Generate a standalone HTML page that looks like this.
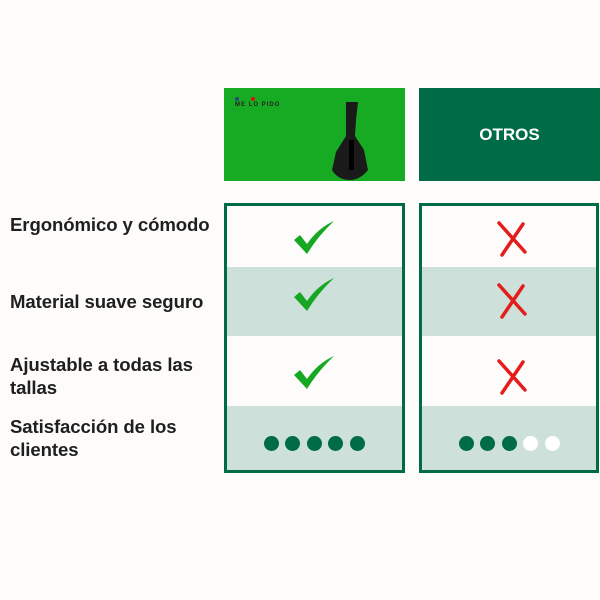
<!DOCTYPE html>
<html><head><meta charset="utf-8"><style>
body{margin:0;width:600px;height:600px;background:#fdfcfa;position:relative;overflow:hidden;font-family:"Liberation Sans",sans-serif}
.a{position:absolute}
.lbl{position:absolute;left:10px;font-weight:bold;font-size:18.6px;color:#1f1f1f;line-height:23px;letter-spacing:-0.1px}
.box{position:absolute;top:203px;height:270px;border:3px solid #006b47;box-sizing:border-box;overflow:hidden;background:#fdfcfa}
.sh{position:absolute;left:0;right:0;background:#cde0da}
.dot{position:absolute;width:15px;height:15px;border-radius:50%;background:#006b47;top:436px}
</style></head><body>
<div class="a" style="left:224px;top:88px;width:181px;height:93px;background:#17ab23"></div>
<div class="a" style="left:235px;top:97px;width:4px;height:4px;border-radius:50%;background:#2a4a7a"></div>
<div class="a" style="left:251px;top:97px;width:4px;height:4px;border-radius:50%;background:#d11"></div>
<div class="a" style="left:235px;top:102px;font-size:6px;font-weight:bold;color:#222;letter-spacing:1px">ME LO PIDO</div>
<svg class="a" style="left:330px;top:100px" width="60" height="80" viewBox="0 0 60 80">
<path d="M16 2 L28 2 L26 20 L25 36 L34 50 L38 70 Q30 80 20 80 Q8 80 2 70 L6 52 L16 36 L16 20 Z" fill="#1a1a1a"/>
<rect x="19" y="40" width="5" height="30" fill="#000"/>
</svg>
<div class="a" style="left:419px;top:88px;width:181px;height:93px;background:#006b47;color:#fff;font-weight:bold;font-size:17px;text-align:center;line-height:93px">OTROS</div>

<div class="box" style="left:224px;width:181px">
<div class="sh" style="top:61px;height:69px"></div>
<div class="sh" style="top:200px;height:70px"></div>
</div>
<div class="box" style="left:419px;width:180px">
<div class="sh" style="top:61px;height:69px"></div>
<div class="sh" style="top:200px;height:70px"></div>
</div>

<svg class="a" style="left:0;top:0" width="600" height="600">
<g fill="#17a823">
<path d="M294 240 L300 235 L307 244 Q318 228 334 221 Q318 236 307 254 Z"/>
<path d="M294 297 L300 292 L307 301 Q318 285 334 278 Q318 293 307 311 Z"/>
<path d="M294 375 L300 370 L307 379 Q318 363 334 356 Q318 371 307 389 Z"/>
</g>
<g stroke="#e41c1c" stroke-width="3.5" stroke-linecap="round">
<path d="M499 223 L525 252 M523 224 L502 255"/>
<path d="M499 285 L525 314 M523 286 L502 317"/>
<path d="M499 361 L525 390 M523 362 L502 393"/>
</g>
</svg>

<div class="dot" style="left:264px"></div><div class="dot" style="left:285px"></div><div class="dot" style="left:307px"></div><div class="dot" style="left:328px"></div><div class="dot" style="left:350px"></div>
<div class="dot" style="left:459px"></div><div class="dot" style="left:480px"></div><div class="dot" style="left:502px"></div><div class="dot" style="left:523px;background:#fff"></div><div class="dot" style="left:545px;background:#fff"></div>

<div class="lbl" style="top:213px">Ergonómico y cómodo</div>
<div class="lbl" style="top:290px">Material suave seguro</div>
<div class="lbl" style="top:353px">Ajustable a todas las<br>tallas</div>
<div class="lbl" style="top:415px">Satisfacción de los<br>clientes</div>
</body></html>
